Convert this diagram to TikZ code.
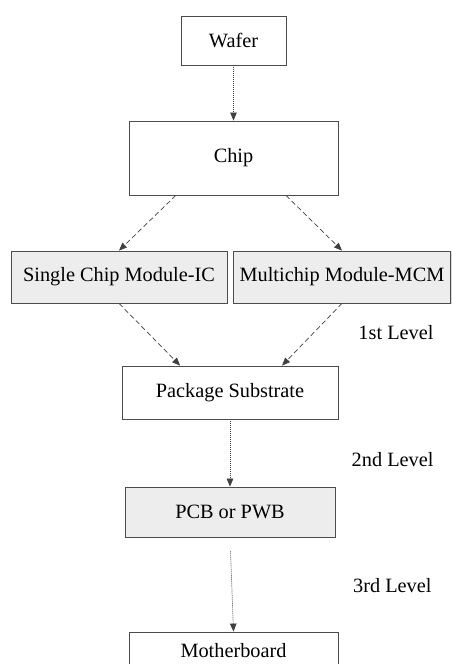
\documentclass[tikz,border=0pt]{standalone}
\usepackage{fontspec}
\setmainfont{Liberation Serif}
\usepackage{tikz}
\usetikzlibrary{arrows.meta,calc,shadows}

\begin{document}
\begin{tikzpicture}[x=1pt, y=1pt,
    box/.style={draw=black!70, line width=0.8pt, fill=white, inner sep=0pt,
        font=\fontsize{20.3}{24}\selectfont,
        drop shadow={shadow xshift=1.2pt, shadow yshift=-1.2pt, fill=black!25, opacity=0.6}},
    graybox/.style={box, fill=black!7},
    lvl/.style={font=\fontsize{20.3}{24}\selectfont, anchor=east},
    link/.style={draw=black!75, line width=0.7pt, -{Triangle[length=8pt, width=6.5pt]}},
    dotlink/.style={link, dash pattern=on 1pt off 1pt},
    dashlink/.style={link, dash pattern=on 5pt off 3pt}]
\useasboundingbox (0,0) rectangle (451,664);
% Boxes
\node[box, minimum width=105, minimum height=49] (wafer) at (233.5,623.5) {Wafer};
\node[box, minimum width=209, minimum height=74] (chip) at (233.5,506) {Chip};
\node[graybox, minimum width=216, minimum height=52] (single) at (119,387) {Single Chip Module-IC};
\node[graybox, minimum width=217, minimum height=52] (multi) at (342,387) {Multichip Module-MCM};
\node[box, minimum width=216, minimum height=53] (pkg) at (230,271.5) {Package Substrate};
\node[graybox, minimum width=210, minimum height=50] (pcb) at (230,152) {PCB or PWB};
\node[box, minimum width=209, minimum height=38] (mboard) at (233.5,13) {Motherboard};
% Level labels
\node[lvl] (first) at (437,331) {1st Level};
\node[lvl] (second) at (437,204) {2nd Level};
\node[lvl] (third) at (435,78) {3rd Level};
% Arrows
\draw[dotlink] (wafer.south) -- (chip.north);
\draw[dashlink] ($(chip.south west)!0.225!(chip.south east)$) -- (single.north);
\draw[dashlink] ($(chip.south west)!0.75!(chip.south east)$) -- (multi.north);
\draw[dashlink] (single.south) -- ($(pkg.north west)!0.27!(pkg.north east)$);
\draw[dashlink] (multi.south) -- ($(pkg.north west)!0.74!(pkg.north east)$);
\draw[dotlink] (pkg.south) -- (pcb.north);
\draw[dotlink, shorten <=14pt] (pcb.south) -- (mboard.north);
\end{tikzpicture}
\end{document}
